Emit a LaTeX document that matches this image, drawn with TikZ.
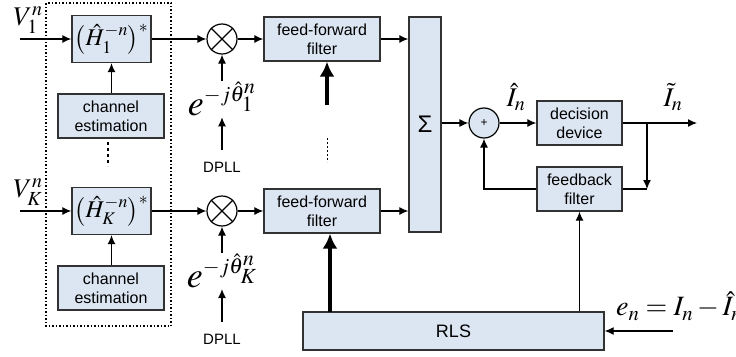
\documentclass[tikz,border=0pt]{standalone}
\usepackage{mathptmx}
\usepackage{fontspec}
\setsansfont{Liberation Sans}
\usetikzlibrary{arrows.meta}
\definecolor{boxblue}{RGB}{220,230,242}
\definecolor{edge}{RGB}{50,50,50}

\begin{document}
\begin{tikzpicture}[x=1pt,y=-1pt,
    blk/.style={draw=edge,fill=boxblue,line width=1.3pt,inner sep=0pt,align=center,
      minimum width=85pt,minimum height=44pt,font=\sffamily\fontsize{16}{19}\selectfont},
    lbl/.style={inner sep=1pt,font=\fontsize{27}{30}\selectfont},
    arr/.style={-{Latex[length=9pt,width=8pt]},line width=1.2pt},
    fat/.style={-{Latex[length=15pt,width=15pt]},line width=4pt}]
  \useasboundingbox (0,0) rectangle (736,356);

  % right half
  \node[blk,minimum width=32pt,minimum height=215pt,font=\sffamily\fontsize{24}{24}\selectfont] (sum) at (425,124.5) {Σ};
  \node[circle,draw=black,fill=boxblue,line width=1.2pt,minimum size=30pt,inner sep=0pt,
    font=\sffamily\fontsize{12}{12}\selectfont] (add) at (484,123) {+};
  \node[blk] (dec) at (579.5,123) {decision\\device};
  \node[blk] (fb) at (579.5,189) {feedback\\filter};
  \node[blk,minimum width=301pt,minimum height=38pt,font=\sffamily\fontsize{18}{18}\selectfont] (rls) at (453.5,331) {RLS};
  \node[lbl] (Ihat) at (516,97) {$\hat{I}_{n}$};
  \node[lbl] (Itil) at (673,97) {$\tilde{I}_{n}$};
  \node[lbl,anchor=west,font=\fontsize{28}{30}\selectfont] (err) at (615,306) {$e_{n}=I_{n}-\hat{I}_{n}$};
  \coordinate (out) at (697,123);
  \coordinate (br) at (647,123);
  \coordinate (errin) at (673,331);
  \coordinate (ffdrv) at (327,105);
  \coordinate (rlsff) at (330,312);

  % the two branches
  \foreach \k/\y in {1/39, K/211}
  {
    \node[lbl] (V\k) at (28,\y-19) {$V_{\k}^{n}$};
    \coordinate (in\k) at (20,\y);
    \node[blk,minimum width=79pt,minimum height=47pt] (H\k) at (111.5,\y)
      {\fontsize{24}{26}\selectfont$\bigl(\hat{H}_{\k}^{-n}\bigr)^{*}$};
    \node[blk,minimum width=106pt] (ce\k) at (111,\y+77) {channel\\estimation};
    \node[circle,draw=black,fill=white,line width=1.2pt,minimum size=30pt,inner sep=0pt] (mul\k) at (222,\y) {};
    \draw[line width=1.2pt] (mul\k.north west) -- (mul\k.south east) (mul\k.north east) -- (mul\k.south west);
    \node[lbl,font=\fontsize{36}{38}\selectfont] (e\k) at (222,\y+60) {$e^{\scriptscriptstyle -j\hat{\theta}_{\k}^{n}}$};
    \node[inner sep=0pt,font=\sffamily\fontsize{15}{15}\selectfont] (dpll\k) at (222,\y+128.5) {DPLL};
    \node[blk,minimum width=116pt] (ff\k) at (322,\y) {feed-forward\\filter};

    \draw[arr] (in\k) -- (H\k.west);
    \draw[arr] (ce\k.north -| H\k.south) -- (H\k.south);
    \draw[arr] (H\k.east) -- (mul\k.west);
    \draw[arr] (e\k.north) -- (mul\k.south);
    \draw[arr,shorten <=12pt] (dpll\k.north) -- (e\k.south);
    \draw[arr] (mul\k.east) -- (ff\k.west);
    \draw[arr] (ff\k.east) -- (ff\k.east -| sum.west);
  }

  % dotted box and dots
  \draw[line width=1.3pt,dash pattern=on 1.5pt off 2pt] (46,3) rectangle (171,326);
  \draw[line width=2.5pt,dash pattern=on 3pt off 3pt] (108,142) -- (108,166);
  \draw[line width=1pt,dash pattern=on 2pt off 2pt] (327,138) -- (327,162);

  % loop and adaptation
  \draw[arr] (sum.east |- add) -- (add.west);
  \draw[arr] (add.east) -- (dec.west);
  \draw[arr] (dec.east) -- (out);
  \draw[arr] (br) -- (br |- fb.east);
  \draw[line width=1.2pt] (fb.east) -- (br |- fb.east);
  \draw[arr] (fb.west) -| (add.south);
  \draw[arr] (fb.south |- rls.north) -- (fb.south);
  \draw[arr] (errin) -- (rls.east);
  \draw[fat] (ffdrv) -- (ffdrv |- ff1.south);
  \draw[fat] (rlsff) -- (rlsff |- ffK.south);
\end{tikzpicture}
\end{document}
